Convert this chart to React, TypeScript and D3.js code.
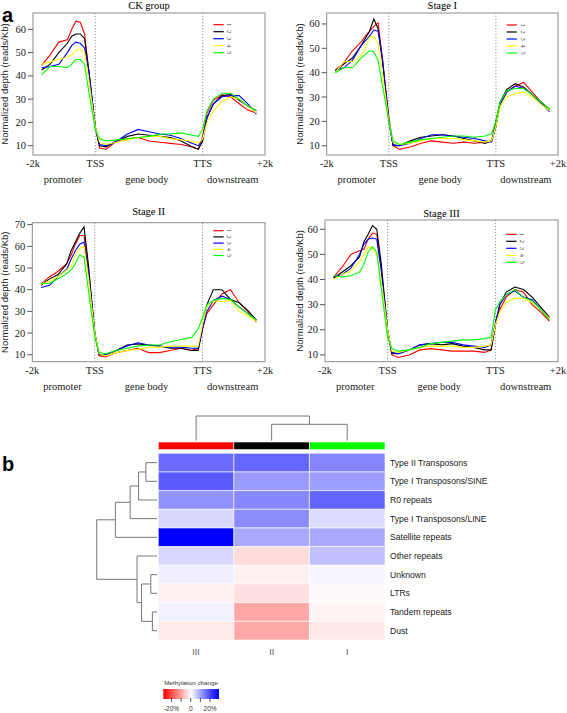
import React from "react";
import * as d3 from "d3";

// ---------- Data: profile plots ----------
const xs = [0, 4, 8, 12, 14, 16, 18, 20, 22, 25, 27, 30, 35, 40, 45, 50, 55, 60, 65, 70, 73, 75, 77, 80, 84, 88, 92, 96, 100];
const seriesNames = ["1", "2", "3", "4", "5"];
const seriesColors = ["#ff0000", "#000000", "#0000ff", "#ffff00", "#00ff00"];

const ck1 = [44.5, 49, 54.5, 55.5, 60, 63.5, 63, 58, 42, 18, 9, 8.5, 12, 13, 13.5, 12, 11.5, 11, 10.5, 9.5, 8.5, 14, 24, 29.5, 31.8, 31, 28, 25.3, 24];
const ck2 = [42.5, 45, 50, 54, 57, 58, 58, 56, 42, 18, 10, 9.5, 12, 14, 15, 14.5, 14, 13.5, 12, 9.5, 8.5, 12, 22, 28, 31.5, 32, 29.5, 27, 25];
const ck3 = [43.5, 44, 45, 50, 53, 54.5, 54, 52, 42, 18, 10.5, 10, 12, 15, 17, 16, 15, 14.5, 13, 11, 10, 13, 22, 28, 31, 31.5, 31.5, 28, 23.5];
const ck4 = [45, 46, 47, 48, 49, 51, 51.5, 50, 38, 18, 11.5, 10.5, 11.5, 12.5, 13.5, 14, 14, 13, 12.5, 12, 11, 13, 20, 25, 29, 31, 30, 27, 24];
const ck5 = [40.5, 44, 44, 43.5, 45, 47, 47, 45, 33, 17, 13, 12, 12.5, 13, 13.5, 14, 15, 15, 15.5, 14.5, 14, 17, 25, 30, 32.5, 32.5, 30, 27, 25];

const s1a = [41, 44, 49, 52.5, 55, 57, 59, 60.5, 46, 22, 10, 8.5, 9.5, 11, 12, 11.5, 11, 11.5, 11, 11.5, 12, 18, 27, 32, 34.5, 36, 32, 28, 24.5];
const s1b = [40.5, 43.5, 46, 51, 54, 57, 62, 58, 45, 20, 10, 10, 12, 13.5, 14, 14.5, 14, 13, 12, 11, 12, 20, 28, 33, 35.5, 34, 31, 28, 25];
const s1c = [41, 42, 45, 51, 53, 55, 57.5, 57, 46, 20, 10.5, 10, 11, 13, 14.5, 14.5, 14, 13.5, 13, 12, 11.5, 18, 27, 32, 34.5, 33.5, 31, 27.5, 24];
const s1d = [40, 44.5, 44.5, 47, 50, 54.5, 55, 52, 40, 20, 11.5, 10.5, 11, 12, 13, 13, 13, 12.5, 12, 11.5, 12, 18, 26, 30, 31.5, 32, 30, 27, 24.5];
const s1e = [40, 42, 42, 46, 47.5, 49, 48.5, 45, 35, 20, 12, 10.5, 11.5, 12.5, 13, 13.5, 14, 14, 13.5, 14, 15, 20, 28, 32.5, 33.5, 33.5, 31, 28, 25];

const s2a = [42.5, 46, 48.5, 52, 56, 61, 65, 65, 50, 20, 9.5, 9, 11, 12, 13, 11, 11, 12, 13, 12, 13, 22, 29, 33, 38, 40, 34, 30, 25];
const s2b = [42, 45, 47, 52, 58, 62, 66, 69, 52, 20, 10, 10, 12, 14.5, 15, 14.5, 14, 13, 13, 12, 12, 22, 33, 40, 40, 35.5, 34, 30.5, 26];
const s2c = [41, 42, 46, 49.5, 54, 58, 61, 62, 48, 20, 10, 10, 12, 14, 15.5, 14.5, 14, 13.5, 13.5, 13, 13, 22, 30, 35, 37, 35.5, 32, 29, 26];
const s2d = [42.5, 44, 46, 49, 51, 56, 59, 60, 46, 20, 10.5, 9.5, 11, 12, 12.5, 13.5, 13.5, 14, 14, 14, 14, 24, 32, 35, 34.5, 35, 30, 28, 25.5];
const s2e = [43, 43, 45, 47.5, 49, 52, 56, 55, 40, 18, 11, 10.5, 12, 13, 14, 14.5, 14.5, 16, 17, 18, 22, 27, 33, 35, 36, 35.5, 32, 29, 26];

const s3a = [41, 45, 50, 51.5, 52, 56, 58.5, 58, 45, 20, 10, 9, 10, 12, 12.5, 12, 11.5, 11.5, 11.5, 11, 12, 22, 28, 33, 36, 35, 30, 27, 23.5];
const s3b = [40.5, 43, 45.5, 49, 55, 58, 61.5, 60, 47, 20, 10.5, 10.5, 12, 14, 14.5, 14, 14.5, 13.5, 13, 12, 12, 22, 30, 35, 37, 36, 33, 29, 25];
const s3c = [41, 42, 44.5, 50, 54, 56, 56.5, 56, 44, 20, 11, 10.5, 12, 14, 14.5, 15, 15, 14, 13.5, 13, 14, 23, 30, 34, 35.5, 33, 32, 28, 24.5];
const s3d = [40, 42, 43.5, 47, 50, 53, 52.5, 50, 40, 20, 11.5, 11, 12, 13, 13.5, 13.5, 13.5, 13, 13, 13.5, 14, 22, 27, 31, 32.5, 32.5, 31, 28, 24.5];
const s3e = [41.5, 41, 41.5, 43, 46, 51, 53, 51, 37, 17, 12.5, 11.5, 12, 13, 14.5, 15, 15.5, 16, 16, 16.5, 17, 28, 31, 34, 36, 33, 31.5, 28, 24];

const xTickLabels = ["-2k", "TSS", "TTS", "+2k"];
const xTickPos = [-4, 25, 75, 104];
const regionLabels = ["promoter", "gene body", "downstream"];
const regionPos = [10, 49, 89];
const ticks60 = [10, 20, 30, 40, 50, 60];
const ticks70 = [10, 20, 30, 40, 50, 60, 70];

// ---------- Data: heatmap ----------
const rowLabels = ["Type II Transposons", "Type I Transposons/SINE", "R0 repeats", "Type I Transposons/LINE", "Satellite repeats", "Other repeats", "Unknown", "LTRs", "Tandem repeats", "Dust"];
const colLabels = ["III", "II", "I"];
const colAnnot = ["#ff0000", "#000000", "#00ff00"];
const colIII = [16.2, 18.1, 12.0, 4.3, 28, 4.5, 1.8, -1.5, 1.5, -2.3];
const colII = [16.9, 11.1, 13.2, 12.6, 9.6, -3.8, -1.6, -3.5, -9.8, -9.5];
const colI = [13.4, 10.8, 17.1, 3.8, 9.4, 6.9, 1.0, -0.8, -1.3, -2.5];
// hclust-style merges: negative = leaf index (1-based), positive = merge index (1-based)
const rowMerges: [number, number, number][] = [
  [-9, -10, 4.7], [-7, -8, 6.3], [-1, -2, 11.3], [2, 1, 15.7], [3, -3, 18.7],
  [-6, 4, 20.3], [5, -4, 27.3], [7, -5, 42.3], [8, 6, 61.3]
];
const colMerges: [number, number, number][] = [[-2, -3, 16.4], [-1, 1, 24.7]];
const legendTicks = [-20, -10, 0, 10, 20];

const serif = "'Liberation Serif', 'Times New Roman', serif";
const sans = "'Liberation Sans', Arial, sans-serif";

type PanelProps = {
  box: [number, number, number, number];
  ydom: [number, number];
  yticks: number[];
  title: string;
  titleY: number;
  series: number[][];
  ylabX: number;
  legTop: number;
  legStep: number;
};

function Panel({ box, ydom, yticks, title, titleY, series, ylabX, legTop, legStep }: PanelProps) {
  const [x0, x1, y0, y1] = box;
  const x = d3.scaleLinear().domain([-4, 104]).range([x0, x1]);
  const y = d3.scaleLinear().domain(ydom).range([y1, y0]);
  const line = d3.line<number>().x((_, i) => x(xs[i])).y((d) => y(d));
  return (
    <g>
      <text x={x(50)} y={titleY} fontFamily={serif} fontSize={10.5} textAnchor="middle">{title}</text>
      {[25, 75].map((v) => (
        <line key={v} x1={x(v)} x2={x(v)} y1={y0} y2={y1} stroke="#7f9aa0" strokeDasharray="1.2,1.8" strokeWidth={1} />
      ))}
      {series.map((s, i) => (
        <path key={i} d={line(s) || ""} fill="none" stroke={seriesColors[i]} strokeWidth={1.1} />
      ))}
      <rect x={x0} y={y0} width={x1 - x0} height={y1 - y0} fill="none" stroke="#8c8c8c" strokeWidth={1} />
      {yticks.map((t) => (
        <g key={t}>
          <line x1={x0 - 5} x2={x0} y1={y(t)} y2={y(t)} stroke="#555" />
          <text x={x0 - 7} y={y(t) + 3.5} fontFamily={serif} fontSize={10.5} textAnchor="end" fill="#222">{t}</text>
        </g>
      ))}
      <text transform={`translate(${ylabX},${(y0 + y1) / 2}) rotate(-90)`} fontFamily={sans} fontSize={9.5} textAnchor="middle" fill="#222">Normalized depth (reads/Kb)</text>
      {xTickLabels.map((l, i) => (
        <text key={l} x={x(xTickPos[i])} y={y1 + 12} fontFamily={serif} fontSize={10.5} textAnchor="middle" fill="#222">{l}</text>
      ))}
      {regionLabels.map((l, i) => (
        <text key={l} x={x(regionPos[i])} y={y1 + 28} fontFamily={serif} fontSize={10.5} textAnchor="middle" fill="#222">{l}</text>
      ))}
      {seriesNames.map((n, i) => (
        <g key={n}>
          <line x1={x(80)} x2={x(84.8)} y1={y0 + legTop + i * legStep} y2={y0 + legTop + i * legStep} stroke={seriesColors[i]} strokeWidth={1.2} />
          <text transform={`translate(${x(86.5)},${y0 + legTop + i * legStep}) rotate(90)`} fontFamily={serif} fontSize={6.5} textAnchor="middle" fill="#333">{n}</text>
        </g>
      ))}
    </g>
  );
}

function dendroSegments(merges: [number, number, number][], leafPos: number[]) {
  const pos: number[] = [];
  const hts: number[] = [];
  const segs: { a: number; h1: number; h2: number; b: number }[] = [];
  const get = (id: number) => (id < 0 ? { p: leafPos[-id - 1], h: 0 } : { p: pos[id - 1], h: hts[id - 1] });
  merges.forEach(([l, r, h]) => {
    const L = get(l), R = get(r);
    segs.push({ a: L.p, h1: L.h, h2: h, b: R.p });
    segs.push({ a: R.p, h1: R.h, h2: h, b: L.p });
    pos.push((L.p + R.p) / 2);
    hts.push(h);
  });
  return segs;
}

function Heatmap() {
  const hx = d3.scaleBand<string>().domain(colLabels).range([158.3, 385]);
  const hy = d3.scaleBand<string>().domain(rowLabels).range([453.3, 640]);
  const color = d3.scaleLinear<string>().domain([-28, 0, 28]).range(["#ff0000", "#ffffff", "#0000ff"]).clamp(true);
  const cols = [colIII, colII, colI];
  const rowCenters = rowLabels.map((r) => (hy(r) as number) + hy.bandwidth() / 2);
  const colCenters = colLabels.map((c) => (hx(c) as number) + hx.bandwidth() / 2);
  const rh = d3.scaleLinear().domain([0, 61.3]).range([157, 96.7]);
  const ch = d3.scaleLinear().domain([0, 24.7]).range([440.7, 416]);
  const rsegs = dendroSegments(rowMerges, rowCenters);
  const csegs = dendroSegments(colMerges, colCenters);
  const lx = d3.scaleLinear().domain([-28.5, 29.3]).range([163.3, 219]);
  return (
    <g>
      <text x={2} y={471} fontFamily={sans} fontWeight="bold" fontSize={20}>b</text>
      {csegs.map((s, i) => (
        <path key={i} d={`M${s.a},${ch(s.h1)}V${ch(s.h2)}H${(s.a + s.b) / 2}`} fill="none" stroke="#777" strokeWidth={1} />
      ))}
      {rsegs.map((s, i) => (
        <path key={i} d={`M${rh(s.h1)},${s.a}H${rh(s.h2)}V${(s.a + s.b) / 2}`} fill="none" stroke="#777" strokeWidth={1} />
      ))}
      {colLabels.map((c, j) => (
        <rect key={c} x={hx(c)} y={442} width={hx.bandwidth()} height={7.6} fill={colAnnot[j]} stroke="#fff" strokeWidth={0.6} />
      ))}
      {cols.map((vals, j) =>
        vals.map((v, i) => (
          <rect key={`${i}-${j}`} x={hx(colLabels[j])} y={hy(rowLabels[i])} width={hx.bandwidth()} height={hy.bandwidth()} fill={color(v)} stroke="#fff" strokeOpacity={0.6} strokeWidth={1} />
        ))
      )}
      {rowLabels.map((r, i) => (
        <text key={r} x={390} y={rowCenters[i] + 3} fontFamily={sans} fontSize={8.6} fill="#222">{r}</text>
      ))}
      {colLabels.map((c, j) => (
        <text key={c} x={colCenters[j]} y={655} fontFamily={sans} fontSize={9} textAnchor="middle" fill="#555">{c}</text>
      ))}
      <defs>
        <linearGradient id="mc" x1="0" x2="1" y1="0" y2="0">
          {d3.range(0, 11).map((k) => {
            const v = lx.invert(163.3 + (k / 10) * (219 - 163.3));
            return <stop key={k} offset={k / 10} stopColor={color(v)} />;
          })}
        </linearGradient>
      </defs>
      <text x={191} y={684.5} fontFamily={sans} fontSize={6.2} textAnchor="middle" fill="#333">Methylation change</text>
      <rect x={163.3} y={689} width={219 - 163.3} height={10} fill="url(#mc)" />
      {legendTicks.map((t) => (
        <line key={t} x1={lx(t)} x2={lx(t)} y1={698} y2={702} stroke="#333" strokeWidth={0.8} />
      ))}
      {legendTicks.filter((t) => t % 20 === 0).map((t) => (
        <text key={t} x={lx(t)} y={711} fontFamily={sans} fontSize={6.5} textAnchor="middle" fill="#333">{t === 0 ? "0" : `${t}%`}</text>
      ))}
    </g>
  );
}

export default function App() {
  return (
    <svg width={567} height={713} style={{ display: "block", position: "absolute", left: 0, top: 0, background: "#fff" }}>
      <rect width={567} height={713} fill="#fff" />
      <text x={2} y={22} fontFamily={sans} fontWeight="bold" fontSize={20}>a</text>
      <Panel box={[33, 265, 13, 155]} ydom={[6, 67]} yticks={ticks60} title="CK  group" titleY={9} series={[ck1, ck2, ck3, ck4, ck5]} ylabX={8} legTop={11.7} legStep={7} />
      <Panel box={[326.7, 558, 13, 155]} ydom={[6.2, 64.5]} yticks={ticks60} title="Stage I" titleY={9} series={[s1a, s1b, s1c, s1d, s1e]} ylabX={303} legTop={12} legStep={7} />
      <Panel box={[32.3, 265, 222.7, 361.7]} ydom={[6.8, 70.9]} yticks={ticks70} title="Stage II" titleY={215} series={[s2a, s2b, s2c, s2d, s2e]} ylabX={8} legTop={8} legStep={6.2} />
      <Panel box={[325, 558, 220, 361.7]} ydom={[7.3, 63.7]} yticks={ticks60} title="Stage III" titleY={217} series={[s3a, s3b, s3c, s3d, s3e]} ylabX={303} legTop={14.3} legStep={7} />
      <Heatmap />
    </svg>
  );
}
